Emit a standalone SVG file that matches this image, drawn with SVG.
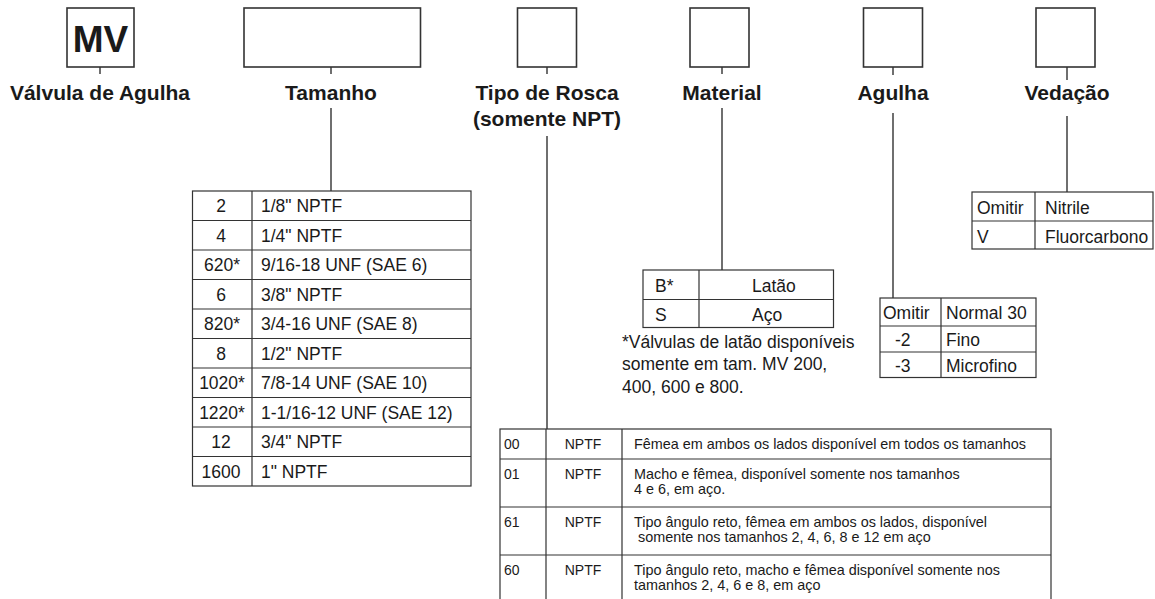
<svg xmlns="http://www.w3.org/2000/svg" width="1155" height="599" viewBox="0 0 1155 599">
<style>
.box{fill:#fff;stroke:#333;stroke-width:1.6}
.tb{fill:#fff;stroke:#333;stroke-width:1.2}
.ln{stroke:#333;stroke-width:1.2;fill:none}
.cn{stroke:#333;stroke-width:1.4;fill:none}
.hd{font-family:"Liberation Sans",Arial,sans-serif;font-weight:bold;font-size:21px;fill:#1a1a1a;text-anchor:middle}
.t{font-family:"Liberation Sans",Arial,sans-serif;font-size:17.5px;fill:#1a1a1a}
.s{font-family:"Liberation Sans",Arial,sans-serif;font-size:14px;fill:#1a1a1a}
.d{font-size:14.4px}
.c{text-anchor:middle}
</style>
<rect width="1155" height="599" fill="#fff"/>
<g id="connectors">
<path class="cn" d="M100 67V74M331 67V74M331 108V191M547 67V74M547 136V429M722 67V74M722 108V270M893 67V75M893 113V298M1067 67V80M1067 116V192"/>
</g>
<g id="mv">
<rect class="box" x="67" y="8" width="67" height="59"/>
<text x="100.5" y="52" style="font-family:'Liberation Sans',Arial,sans-serif;font-weight:bold;font-size:37px;fill:#1a1a1a;text-anchor:middle">MV</text>
<text class="hd" x="100" y="100">Válvula de Agulha</text>
</g>
<g id="tamanho">
<rect class="box" x="244" y="8" width="176.5" height="59"/>
<text class="hd" x="331" y="100">Tamanho</text>
</g>
<g id="tipo">
<rect class="box" x="517.5" y="8" width="59" height="59"/>
<text class="hd" x="547" y="100">Tipo de Rosca</text>
<text class="hd" x="547" y="126">(somente NPT)</text>
</g>
<g id="material">
<rect class="box" x="690" y="8" width="59" height="59"/>
<text class="hd" x="722" y="100">Material</text>
</g>
<g id="agulha">
<rect class="box" x="863.5" y="8" width="59" height="59"/>
<text class="hd" x="893" y="100">Agulha</text>
</g>
<g id="vedacao">
<rect class="box" x="1036" y="8" width="59" height="59"/>
<text class="hd" x="1067" y="100">Vedação</text>
</g>
<g id="tabela-tamanho">
<rect class="tb" x="192.5" y="191" width="278.5" height="295"/>
<path class="ln" d="M252 191V486M192.5 220.5H471M192.5 250H471M192.5 279.5H471M192.5 309H471M192.5 338.5H471M192.5 368H471M192.5 397.5H471M192.5 427H471M192.5 456.5H471"/>
<g class="t">
<text class="c" x="221" y="212">2</text><text x="261" y="212">1/8" NPTF</text>
<text class="c" x="221" y="241.5">4</text><text x="261" y="241.5">1/4" NPTF</text>
<text class="c" x="222" y="271">620*</text><text x="261" y="271">9/16-18 UNF (SAE 6)</text>
<text class="c" x="221" y="300.5">6</text><text x="261" y="300.5">3/8" NPTF</text>
<text class="c" x="222" y="330">820*</text><text x="261" y="330">3/4-16 UNF (SAE 8)</text>
<text class="c" x="221" y="359.5">8</text><text x="261" y="359.5">1/2" NPTF</text>
<text class="c" x="222" y="389">1020*</text><text x="261" y="389">7/8-14 UNF (SAE 10)</text>
<text class="c" x="222" y="418.5">1220*</text><text x="261" y="418.5">1-1/16-12 UNF (SAE 12)</text>
<text class="c" x="221" y="448">12</text><text x="261" y="448">3/4" NPTF</text>
<text class="c" x="221" y="477.5">1600</text><text x="261" y="477.5">1" NPTF</text>
</g>
</g>
<g id="tabela-material">
<rect class="tb" x="643" y="270" width="190.5" height="57.5"/>
<path class="ln" d="M699 270V327.5M643 299.5H833.5"/>
<g class="t">
<text x="655" y="291.5">B*</text><text x="752" y="291.5">Latão</text>
<text x="655" y="320.5">S</text><text x="752" y="320.5">Aço</text>
<text x="622" y="347.5">*Válvulas de latão disponíveis</text>
<text x="622" y="370">somente em tam. MV 200,</text>
<text x="622" y="392.5">400, 600 e 800.</text>
</g>
</g>
<g id="tabela-agulha">
<rect class="tb" x="880" y="298" width="156" height="79.5"/>
<path class="ln" d="M941 298V377.5M880 326H1036M880 352H1036"/>
<g class="t">
<text x="883" y="319">Omitir</text><text x="946" y="319">Normal 30</text>
<text x="895" y="346">-2</text><text x="946" y="346">Fino</text>
<text x="895" y="371.5">-3</text><text x="946" y="371.5">Microfino</text>
</g>
</g>
<g id="tabela-vedacao">
<rect class="tb" x="972" y="192" width="181" height="57"/>
<path class="ln" d="M1035 192V249M972 221H1153"/>
<g class="t">
<text x="977" y="214">Omitir</text><text x="1045" y="214">Nitrile</text>
<text x="977" y="243">V</text><text x="1045" y="243">Fluorcarbono</text>
</g>
</g>
<g id="tabela-rosca">
<rect class="tb" x="500" y="429" width="551" height="180"/>
<path class="ln" d="M546 429V609M622 429V609M500 459H1051M500 507H1051M500 555H1051"/>
<g class="s">
<text x="504" y="449">00</text><text class="c" x="583" y="449">NPTF</text>
<text class="d" x="634" y="449">Fêmea em ambos os lados disponível em todos os tamanhos</text>
<text x="504" y="479">01</text><text class="c" x="583" y="479">NPTF</text>
<text class="d" x="634" y="479">Macho e fêmea, disponível somente nos tamanhos</text>
<text class="d" x="634" y="494">4 e 6, em aço.</text>
<text x="504" y="527">61</text><text class="c" x="583" y="527">NPTF</text>
<text class="d" x="634" y="527">Tipo ângulo reto, fêmea em ambos os lados, disponível</text>
<text class="d" x="638" y="542">somente nos tamanhos 2, 4, 6, 8 e 12 em aço</text>
<text x="504" y="575">60</text><text class="c" x="583" y="575">NPTF</text>
<text class="d" x="634" y="575">Tipo ângulo reto, macho e fêmea disponível somente nos</text>
<text class="d" x="634" y="590">tamanhos 2, 4, 6 e 8, em aço</text>
</g>
</g>
</svg>
